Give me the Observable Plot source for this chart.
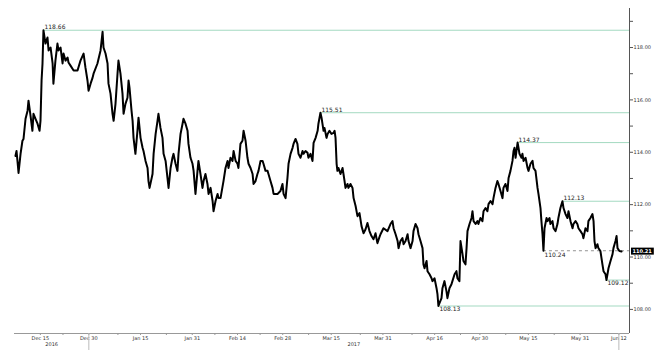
<!DOCTYPE html>
<html><head><meta charset="utf-8">
<script src="https://cdn.jsdelivr.net/npm/d3@7"></script>
<script src="https://cdn.jsdelivr.net/npm/@observablehq/plot@0.6"></script>
<style>body{margin:0;background:#fff}</style>
</head><body><div id="chart"></div>
<script>
// USD/JPY: ["MM-DD HH", price]
const prices = [
["12-07 07",113.86],["12-07 15",114.05],["12-07 22",113.67],["12-08 06",113.21],["12-08 21",113.94],
["12-09 11",114.44],["12-09 19",114.51],["12-10 10",115.28],["12-11 01",115.59],["12-11 08",115.97],
["12-11 23",115.40],["12-12 13",114.82],["12-12 21",115.47],["12-13 12",115.28],["12-14 03",115.09],
["12-14 18",114.82],["12-15 01",115.20],["12-15 09",116.74],["12-15 16",117.39],["12-15 23",118.66],
["12-16 14",118.15],["12-17 05",118.38],["12-17 13",117.89],["12-18 04",118.00],["12-18 19",117.39],
["12-19 01",116.62],["12-19 16",117.50],["12-20 07",118.15],["12-20 15",117.89],["12-21 06",118.00],
["12-21 21",117.39],["12-22 04",117.77],["12-22 19",117.50],["12-23 10",117.62],["12-23 17",117.43],
["12-24 08",117.31],["12-25 07",117.12],["12-26 12",117.12],["12-27 10",117.50],["12-28 09",117.77],
["12-28 23",117.23],["12-29 14",116.74],["12-29 22",116.35],["12-30 13",116.62],["12-31 04",116.85],
["12-31 11",117.00],["01-01 16",117.39],["01-02 15",117.89],["01-03 06",118.60],["01-03 13",118.00],
["01-04 04",117.77],["01-04 19",117.39],["01-05 02",116.62],["01-05 17",116.24],["01-06 08",115.47],
["01-06 16",115.20],["01-07 06",115.85],["01-07 21",117.00],["01-08 04",117.50],["01-08 19",117.00],
["01-09 10",116.24],["01-09 18",115.47],["01-10 08",115.85],["01-10 23",116.08],["01-11 07",116.74],
["01-11 14",116.47],["01-12 05",115.59],["01-12 13",115.20],["01-12 20",114.55],["01-13 10",113.94],
["01-14 01",114.82],["01-14 09",115.32],["01-15 00",114.55],["01-15 15",114.17],["01-15 22",114.05],
["01-16 13",113.67],["01-17 04",113.40],["01-17 11",112.90],["01-17 19",112.64],["01-18 17",113.17],
["01-19 01",113.94],["01-19 16",114.70],["01-20 06",115.20],["01-20 13",115.47],["01-21 04",114.93],
["01-21 19",114.55],["01-22 03",113.94],["01-22 18",113.67],["01-23 08",113.02],["01-23 16",112.64],
["01-24 07",113.40],["01-24 21",113.79],["01-25 05",113.94],["01-25 20",113.56],["01-26 10",113.29],
["01-26 18",113.94],["01-27 09",114.70],["01-28 00",115.09],["01-28 07",115.28],["01-28 22",115.09],
["01-29 13",114.82],["01-29 20",114.32],["01-30 11",113.79],["01-31 02",113.56],["01-31 10",113.29],
["02-01 00",112.41],["02-01 15",113.29],["02-01 22",113.67],["02-02 13",113.17],["02-03 04",112.64],
["02-03 12",112.90],["02-04 02",113.17],["02-04 17",112.79],["02-05 01",112.41],["02-05 16",112.64],
["02-06 07",112.14],["02-06 14",111.75],["02-07 05",112.14],["02-07 20",112.41],["02-08 03",112.25],
["02-08 18",112.25],["02-09 16",112.90],["02-10 07",113.40],["02-10 22",113.67],["02-11 05",113.40],
["02-11 20",113.79],["02-12 11",113.67],["02-12 19",114.05],["02-13 10",113.67],["02-14 00",113.56],
["02-14 07",113.40],["02-14 22",114.32],["02-15 13",114.44],["02-15 21",114.82],["02-16 12",114.44],
["02-17 02",113.79],["02-17 10",113.56],["02-18 01",113.40],["02-18 16",113.17],["02-18 23",112.79],
["02-19 14",112.90],["02-20 04",113.17],["02-20 12",113.29],["02-21 03",113.67],["02-21 18",113.67],
["02-22 01",113.56],["02-22 16",113.29],["02-23 07",113.29],["02-23 14",113.17],["02-24 05",112.90],
["02-24 20",112.64],["02-25 04",112.41],["02-26 09",112.41],["02-27 07",112.52],["02-27 22",112.79],
["02-28 06",112.41],["02-28 21",112.25],["03-01 11",113.02],["03-01 19",113.56],["03-02 10",113.94],
["03-03 01",114.17],["03-03 08",114.32],["03-03 23",114.51],["03-04 13",114.32],["03-04 21",113.94],
["03-05 12",113.79],["03-06 03",114.05],["03-06 10",113.94],["03-07 01",114.05],["03-07 16",113.98],
["03-07 23",113.79],["03-08 14",113.94],["03-09 05",113.67],["03-09 13",114.36],["03-10 04",114.55],
["03-10 19",114.82],["03-11 01",115.09],["03-11 16",115.51],["03-12 00",115.32],["03-12 15",114.82],
["03-12 22",114.93],["03-13 13",114.55],["03-13 21",114.70],["03-14 11",114.82],["03-15 02",114.70],
["03-15 17",114.74],["03-16 01",114.82],["03-16 08",114.55],["03-16 16",113.56],["03-16 22",113.29],
["03-17 06",113.40],["03-17 21",113.17],["03-18 12",113.40],["03-18 19",113.17],["03-19 03",112.90],
["03-19 10",112.64],["03-20 01",112.79],["03-20 08",112.64],["03-20 23",112.79],["03-21 14",112.64],
["03-21 22",112.25],["03-22 13",111.95],["03-23 03",111.56],["03-23 18",111.68],["03-24 09",111.18],
["03-25 00",110.91],["03-25 15",111.06],["03-26 05",111.30],["03-26 20",110.99],["03-27 11",110.80],
["03-28 02",110.68],["03-28 17",110.91],["03-29 07",110.53],["03-29 22",110.76],["03-30 06",110.87],
["03-31 04",111.10],["04-01 10",110.99],["04-02 08",111.26],["04-02 23",111.37],["04-03 07",111.10],
["04-03 22",110.87],["04-04 13",110.61],["04-04 20",110.34],["04-05 10",110.61],["04-06 01",110.72],
["04-06 09",110.49],["04-07 00",110.61],["04-07 15",110.87],["04-07 22",110.61],["04-08 13",110.34],
["04-09 04",110.61],["04-09 11",110.99],["04-10 02",111.26],["04-10 17",111.10],["04-11 00",110.87],
["04-11 15",110.61],["04-12 06",110.34],["04-12 13",109.72],["04-12 21",109.57],["04-13 12",109.85],
["04-13 19",109.46],["04-14 10",109.34],["04-15 01",109.19],["04-15 08",109.08],["04-15 23",109.19],
["04-16 14",108.81],["04-16 21",108.58],["04-17 04",108.13],["04-17 12",108.24],["04-18 03",108.43],
["04-18 10",108.81],["04-19 01",109.08],["04-19 16",108.69],["04-19 23",108.43],["04-20 14",108.81],
["04-21 05",108.96],["04-21 12",109.08],["04-22 04",109.34],["04-22 18",109.46],["04-23 01",109.19],
["04-23 16",109.08],["04-24 00",110.61],["04-24 15",110.11],["04-24 22",109.85],["04-25 13",109.72],
["04-25 21",110.34],["04-26 04",110.99],["04-26 19",111.26],["04-27 10",111.49],["04-27 17",111.75],
["04-28 01",111.37],["04-28 16",111.26],["04-29 06",111.37],["04-29 13",111.26],["04-30 04",111.49],
["04-30 19",111.37],["05-01 03",111.75],["05-01 18",111.87],["05-02 08",111.75],["05-02 16",112.02],
["05-03 07",112.14],["05-03 22",112.02],["05-04 05",112.25],["05-04 20",112.64],["05-05 10",112.90],
["05-05 18",112.79],["05-06 09",112.52],["05-07 00",112.25],["05-07 07",112.64],["05-07 22",112.79],
["05-08 13",112.52],["05-08 21",113.02],["05-09 11",113.29],["05-10 02",113.67],["05-10 10",114.05],
["05-10 17",114.17],["05-11 01",113.79],["05-11 16",114.37],["05-11 23",114.17],["05-12 06",113.94],
["05-12 21",113.79],["05-13 04",113.94],["05-13 12",113.67],["05-14 03",113.79],["05-14 18",113.40],
["05-15 01",113.29],["05-15 16",113.56],["05-16 07",113.67],["05-16 14",113.40],["05-17 05",113.29],
["05-17 20",112.64],["05-18 03",112.41],["05-18 18",111.87],["05-19 01",111.37],["05-19 09",110.87],
["05-19 16",110.24],["05-20 00",111.10],["05-20 15",111.49],["05-20 22",111.37],["05-21 13",111.49],
["05-21 20",111.26],["05-22 11",111.37],["05-22 19",111.10],["05-23 10",110.99],["05-24 00",111.26],
["05-24 07",111.49],["05-24 22",111.87],["05-25 13",112.13],["05-25 21",111.87],["05-26 12",111.64],
["05-27 02",111.49],["05-27 10",111.75],["05-28 01",111.37],["05-28 16",111.10],["05-28 23",111.26],
["05-29 14",111.37],["05-30 04",111.26],["05-30 12",111.10],["05-31 03",110.99],["05-31 18",110.87],
["06-01 01",110.72],["06-01 16",111.10],["06-02 07",110.99],["06-02 14",111.37],["06-03 05",111.49],
["06-03 20",111.64],["06-04 04",111.37],["06-04 11",110.61],["06-04 19",110.34],["06-05 09",110.49],
["06-05 16",110.34],["06-06 07",110.23],["06-06 22",109.72],["06-07 06",109.46],["06-07 21",109.34],
["06-08 04",109.12],["06-08 19",109.57],["06-09 10",109.85],["06-10 01",110.11],["06-10 08",110.34],
["06-10 23",110.61],["06-11 07",110.80],["06-11 14",110.34],["06-12 04",110.23],["06-12 20",110.21]
];

const highTimes = ["12-15 23","03-11 16","05-11 16","05-25 13"];
const highValues = [118.66, 115.51, 114.37, 112.13];
const lowTimes = ["04-17 04","06-08 04"];
const lowValues = [108.13, 109.12];
const pivotTimes = ["05-19 16"];
const pivotValues = [110.24];
const lastValue = 110.21;

const majorTicks = ["12-15","12-30","01-15","01-31","02-14","02-28","03-15","03-31","04-16","04-30","05-15","05-31","06-12"];
const minorTicks = ["12-22","01-08","01-23","02-07","02-21","03-08","03-24","04-09","04-24","05-08","05-23"];
const yearBreaks = ["12-30","06-12"];
const yearLabels = ["2016","2017"];
const yearCenters = ["12-18 12","03-22 00"];
const yMajor = [108,110,112,114,116,118];
const yMinor = [109,111,113,115,117,119];
const xStart = "12-07 00", xEnd = "06-15 07";
const yDomain = [107.08, 119.49];

function t(s){
  const [md,h] = s.split(" ");
  const [m,d] = md.split("-").map(Number);
  return new Date(Date.UTC(m === 12 ? 2016 : 2017, m-1, d, h ? +h : 0));
}

const series = prices.map(([s,v]) => ({t: t(s), v}));
const end = t(xEnd);
const highs = highTimes.map((s,i) => ({t: t(s), v: highValues[i]}));
const lows = lowTimes.map((s,i) => ({t: t(s), v: lowValues[i]}));
const pivots = pivotTimes.map((s,i) => ({t: t(s), v: pivotValues[i]}));
const yearMap = new Map(yearCenters.map((s,i) => [+t(s), yearLabels[i]]));
const fmt = d3.utcFormat("%b %d");
const font = "'DejaVu Sans', Verdana, sans-serif";
const levelColor = "#a3d9c1";

const chart = Plot.plot({
  width: 663, height: 355,
  marginLeft: 14, marginRight: 34, marginTop: 8, marginBottom: 22,
  style: {fontFamily: font, background: "#fff", color: "#333", overflow: "visible"},
  x: {type: "utc", domain: [t(xStart), end], label: null},
  y: {domain: yDomain, label: null},
  marks: [
    Plot.ruleY(highs, {y: "v", x1: "t", x2: () => end, stroke: levelColor, strokeWidth: 1}),
    Plot.ruleY(lows, {y: "v", x1: "t", x2: () => end, stroke: levelColor, strokeWidth: 1}),
    Plot.ruleY(pivots, {y: "v", x1: "t", x2: () => end, stroke: "#777", strokeWidth: 0.8, strokeDasharray: "3,3"}),
    Plot.line(series, {x: "t", y: "v", stroke: "#000", strokeWidth: 2}),
    Plot.text(highs, {x: "t", y: "v", text: d => d.v.toFixed(2), textAnchor: "start", lineAnchor: "bottom", dx: 1, dy: -1, fontSize: 6, fill: "#222"}),
    Plot.text(lows, {x: "t", y: "v", text: d => d.v.toFixed(2), textAnchor: "start", lineAnchor: "top", dx: 1, dy: 1, fontSize: 6, fill: "#222"}),
    Plot.text(pivots, {x: "t", y: "v", text: d => d.v.toFixed(2), textAnchor: "start", lineAnchor: "top", dx: 1, dy: 2, fontSize: 6, fill: "#222"}),
    Plot.ruleX([end], {stroke: "#555", strokeWidth: 1}),
    Plot.ruleY([yDomain[0]], {stroke: "#999", strokeWidth: 1}),
    Plot.axisY({ticks: yMajor, anchor: "right", label: null, tickSize: 3, tickPadding: 1, tickFormat: d => d.toFixed(2), fontSize: 5, stroke: "#555"}),
    Plot.axisY({ticks: yMinor, anchor: "right", label: null, tickSize: 3, tickFormat: () => "", stroke: "#555"}),
    Plot.axisX({ticks: majorTicks.map(t), anchor: "bottom", label: null, tickSize: 2, tickPadding: 1, tickFormat: fmt, fontSize: 5, stroke: "#999"}),
    Plot.axisX({ticks: minorTicks.map(t), anchor: "bottom", label: null, tickSize: 2, tickFormat: () => "", stroke: "#999"}),
    Plot.axisX({ticks: yearBreaks.map(t), anchor: "bottom", label: null, tickSize: 17, tickFormat: () => "", stroke: "#bbb"}),
    Plot.axisX({ticks: yearCenters.map(t), anchor: "bottom", label: null, tickSize: 0, tickPadding: 9, tickFormat: d => yearMap.get(+d), fontSize: 5}),
    Plot.text([{t: end, v: lastValue}], {x: "t", y: "v", text: d => d.v.toFixed(2), textAnchor: "start", dx: 3, fontSize: 5, fontWeight: "bold", fill: "#fff"})
  ]
});
document.getElementById("chart").append(chart);

// black box behind the last price tag
d3.select(chart).selectAll("text").each(function(){
  if (this.textContent === lastValue.toFixed(2)) {
    const b = this.getBBox();
    const r = document.createElementNS("http://www.w3.org/2000/svg", "rect");
    r.setAttribute("x", b.x - 1.5); r.setAttribute("y", b.y - 0.5);
    r.setAttribute("width", b.width + 3); r.setAttribute("height", b.height + 1);
    r.setAttribute("fill", "#000");
    const tr = this.getAttribute("transform");
    if (tr) r.setAttribute("transform", tr);
    this.parentNode.insertBefore(r, this);
  }
});
</script>
</body></html>
